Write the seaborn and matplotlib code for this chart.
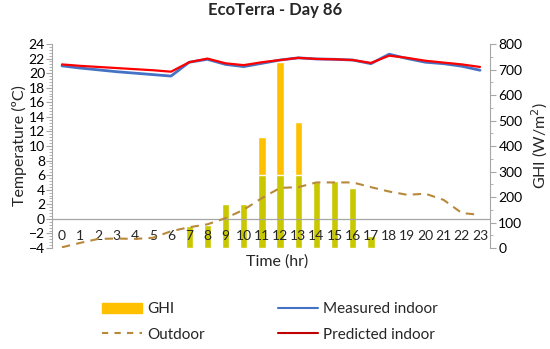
import numpy as np
import pandas as pd
import seaborn as sns
import matplotlib.pyplot as plt
from matplotlib.ticker import MultipleLocator, AutoMinorLocator
from matplotlib.lines import Line2D
from matplotlib.patches import Patch

hours = list(range(24))
ghi = [0, 0, 0, 0, 0, 0, 5, 86, 91, 171, 171, 434, 731, 493,
       257, 264, 236, 46, 5, 0, 0, 0, 0, 0]
outdoor = [-3.9, -3.3, -2.75, -2.7, -2.75, -2.6, -1.7, -1.15, -0.75, 0.1, 1.25, 2.85,
           4.25, 4.35, 5.0, 5.0, 5.0, 4.35, 3.75, 3.3, 3.45, 2.6, 0.8, 0.55]
measured = [21.0, 20.7, 20.45, 20.2, 20.0, 19.8, 19.6, 21.5, 21.9, 21.2, 20.9, 21.35,
            21.8, 22.1, 21.95, 21.9, 21.8, 21.3, 22.6, 22.0, 21.5, 21.3, 20.95, 20.4]
predicted = [21.2, 21.0, 20.85, 20.7, 20.55, 20.4, 20.2, 21.5, 22.0, 21.35, 21.1, 21.5,
             21.8, 22.1, 21.95, 21.9, 21.8, 21.4, 22.4, 22.1, 21.7, 21.45, 21.2, 20.85]

df = pd.DataFrame({'hour': hours, 'ghi': ghi, 'outdoor': outdoor,
                   'measured': measured, 'predicted': predicted})
# lower part of bars rendered olive in the original
df['ghi_low'] = np.minimum(df['ghi'], 286)

sns.set_style('white')
plt.rcParams['font.family'] = ['Lato', 'DejaVu Sans']

fig = plt.figure(figsize=(5.5, 3.49), dpi=100)
ax = fig.add_axes([0.0945, 0.2894, 0.7964, 0.5845])
ax2 = ax.twinx()

sns.barplot(data=df, x='hour', y='ghi', color='#FFC000', width=0.4,
            saturation=1, ax=ax2)
sns.barplot(data=df, x='hour', y='ghi_low', color='#C9C800', width=0.4,
            saturation=1, ax=ax2)
ax2.set_ylim(0, 800)
ax2.yaxis.set_major_locator(MultipleLocator(100))
ax2.yaxis.set_minor_locator(AutoMinorLocator(2))
ax2.set_ylabel('GHI (W/m$^2$)', fontsize=11.5, labelpad=5)
ax2.set_xlabel('')

ax.set_zorder(ax2.get_zorder() + 1)
ax.patch.set_visible(False)
ax.axhline(0, color='#A6A6A6', lw=0.9)
sns.lineplot(data=df, x='hour', y='outdoor', color='#B8893A', lw=1.5,
             linestyle=(0, (4, 3)), ax=ax)
sns.lineplot(data=df, x='hour', y='measured', color='#4472C4', lw=2, ax=ax)
sns.lineplot(data=df, x='hour', y='predicted', color='#FF0000', lw=1.6, ax=ax)
ax.set_ylim(-4, 24)
ax.set_xlim(-0.55, 23.55)
ax.yaxis.set_major_locator(MultipleLocator(2))
ax.yaxis.set_minor_locator(AutoMinorLocator(5))
ax.set_xticks(hours)
ax.set_xticklabels([str(h) for h in hours])
ax.set_ylabel('Temperature (ºC)', fontsize=11.5, labelpad=1)
ax.set_xlabel('')

for a in (ax, ax2):
    for s in a.spines.values():
        s.set_visible(False)
    a.tick_params(axis='y', labelsize=10, colors='#A6A6A6', labelcolor='black',
                  length=4, width=0.8, direction='out')
    a.tick_params(axis='y', which='minor', colors='#A6A6A6', length=2.5, width=0.6)
ax.spines['left'].set_visible(True)
ax.spines['left'].set_color('#A6A6A6')
ax2.spines['right'].set_visible(True)
ax2.spines['right'].set_color('#A6A6A6')
ax.tick_params(axis='y', pad=1)
ax2.tick_params(axis='y', pad=2)
ax.tick_params(axis='x', length=0, labelsize=10, pad=-13)
ax2.tick_params(axis='x', bottom=False, labelbottom=False)

fig.text(0.504, 1 - 262 / 349, 'Time (hr)', ha='center', va='center', fontsize=11.5)
fig.text(0.5, 1 - 10 / 349, 'EcoTerra - Day 86', ha='center', va='center',
         fontsize=12, fontweight='bold')

handles = [Patch(color='#FFC000'),
           Line2D([], [], color='#B8893A', lw=1.5, linestyle=(0, (3, 3))),
           Line2D([], [], color='#4472C4', lw=1.5),
           Line2D([], [], color='#C00000', lw=1.5)]
labels = ['GHI', 'Outdoor', 'Measured indoor', 'Predicted indoor']
fig.legend(handles, labels, ncol=2, frameon=False, fontsize=11,
           loc='center', bbox_to_anchor=(0.491, 1 - 322 / 349),
           handlelength=2.6, handletextpad=0.35, columnspacing=4.8,
           labelspacing=0.75, handleheight=0.7)

fig.savefig('out.png', dpi=100)
